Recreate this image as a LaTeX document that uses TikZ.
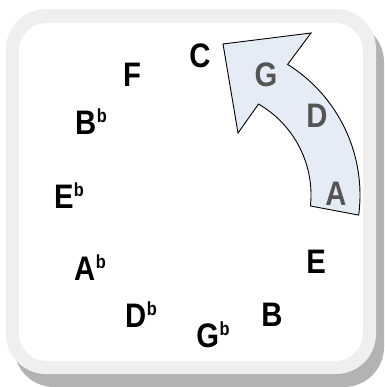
\documentclass[tikz,border=0pt]{standalone}
\usepackage{fontspec}
\setmainfont{Liberation Sans}
\usetikzlibrary{positioning}
\definecolor{cFrame}{RGB}{239,239,239}
\definecolor{cShadow}{RGB}{179,179,179}
\definecolor{cSweep}{RGB}{230,236,246}
\definecolor{cFifth}{RGB}{85,85,85}
\newcommand{\flatb}{\kern0.5pt\raisebox{12pt}{\fontsize{19}{19}\selectfont b}}

\begin{document}
\begin{tikzpicture}[
  x=1pt, y=-1pt,
  font=\fontsize{34}{34}\selectfont\bfseries,
  note/.style={inner sep=0pt, anchor=base, text=black, xscale=0.86},
  fifth/.style={inner sep=0pt, anchor=base, text=cFifth, xscale=0.86},
  sweep/.style={draw=black, line width=0.9pt, fill=cSweep, line join=miter},
]
\useasboundingbox (0,0) rectangle (384,387);
% frame with drop shadow
\fill[cShadow, rounded corners=40pt] (14,22) rectangle (384,387);
\fill[cFrame, rounded corners=40pt] (6,9) rectangle (376,374);
\fill[white, rounded corners=28pt] (19,23) rectangle (363,361);

% curved arrow
\coordinate (ctr) at (206,195);
\draw[sweep] ([shift={(7.5:154)}]ctr) arc[start angle=7.5, end angle=-58, radius=154]
  -- (311,33) -- (223,44) -- (238,133)
  -- ([shift={(-60:105)}]ctr) arc[start angle=-60, end angle=6, radius=105] -- cycle;

% circle of notes
\node[note] (nC)  at (200,68)  {C};
\node[note] (nF)  at (132,87)  {F};
\node[note] (nBb) at (91,135)  {B\flatb};
\node[note] (nEb) at (69,208)  {E\flatb};
\node[note] (nAb) at (90,280)  {A\flatb};
\node[note] (nDb) at (141,327) {D\flatb};
\node[note] (nGb) at (213,347) {G\flatb};
\node[note] (nB)  at (272,326) {B};
\node[note] (nE)  at (316,273) {E};

% fifths on the arrow
\node[fifth] (fG) at (266,87)  {G};
\node[fifth] (fD) at (317,128) {D};
\node[fifth] (fA) at (336,205) {A};
\end{tikzpicture}
\end{document}
